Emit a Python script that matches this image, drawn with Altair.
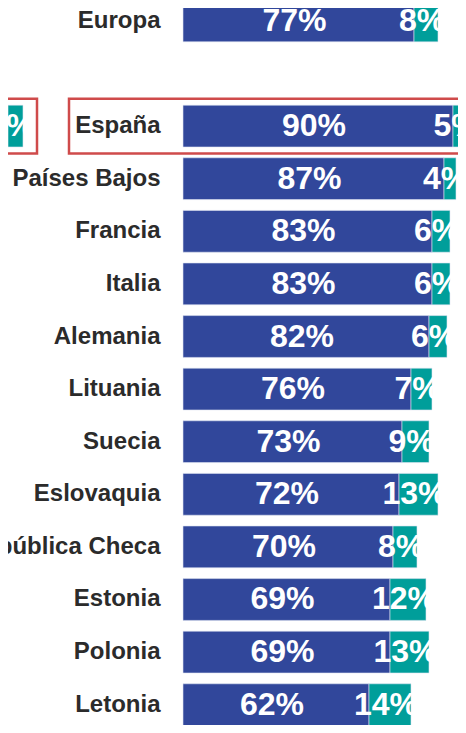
import altair as alt
import pandas as pd

# ---- data ----
paises = ["Europa", "España", "Países Bajos", "Francia", "Italia", "Alemania",
          "Lituania", "Suecia", "Eslovaquia", "República Checa", "Estonia",
          "Polonia", "Letonia"]
azul = [77, 90, 87, 83, 83, 82, 76, 73, 72, 70, 69, 69, 62]
verde = [8, 5, 4, 6, 6, 6, 7, 9, 13, 8, 12, 13, 14]

# fragment of the neighbouring (cropped) panel on the left
izq_paises = ["España"]
izq_azul = [90]
izq_verde = [5]

destacado = ["España"]

orden = ["Europa", " "] + paises[1:]

BLUE = "#31479b"
TEAL = "#009e9a"
RED = "#cf4b4b"
FONT = "Liberation Sans"


def largo(nombres, a, v):
    filas = []
    for p, x1, x2 in zip(nombres, a, v):
        filas.append({"pais": p, "serie": "azul", "start": 0, "end": x1,
                      "mid": x1 / 2, "label": f"{x1}%"})
        filas.append({"pais": p, "serie": "verde", "start": x1, "end": x1 + x2,
                      "mid": x1 + x2 / 2, "label": f"{x2}%"})
    return pd.DataFrame(filas)


df = largo(paises, azul, verde)
df_izq = largo(izq_paises, izq_azul, izq_verde)
df_hl = pd.DataFrame({"pais": destacado})

Y = alt.Y(
    "pais:N",
    sort=orden,
    scale=alt.Scale(domain=orden, range=[-8, 717.6], paddingInner=0.205,
                    paddingOuter=0, round=False),
    axis=alt.Axis(
        title=None, ticks=False, tickSize=0, domain=False,
        labelFont=FONT, labelFontWeight="bold", labelFontSize=24,
        labelColor="#2b2b2b", labelPadding=23, labelLimit=400,
    ),
)

xs = alt.Scale(domain=[0, 100], range=[0, 300])
xs_izq = alt.Scale(domain=[0, 100], range=[-445, -145])
color = alt.Color("serie:N", scale=alt.Scale(domain=["azul", "verde"], range=[BLUE, TEAL]), legend=None)

bars = alt.Chart(df).mark_bar(stroke="#dfe4f2", strokeWidth=0.6).encode(
    y=Y, x=alt.X("start:Q", scale=xs, axis=None), x2="end:Q", color=color
)
text = alt.Chart(df).mark_text(
    font=FONT, fontWeight="bold", fontSize=32, color="white", dx=-4, baseline="middle"
).encode(y=Y, x=alt.X("mid:Q", scale=xs, axis=None), text="label:N")

bars_izq = alt.Chart(df_izq).mark_bar(stroke="#dfe4f2", strokeWidth=0.6).encode(
    y=Y, x=alt.X("start:Q", scale=xs_izq, axis=None), x2="end:Q", color=color
)
text_izq = alt.Chart(df_izq).mark_text(
    font=FONT, fontWeight="bold", fontSize=32, color="white", dx=-4, baseline="middle"
).encode(y=Y, x=alt.X("mid:Q", scale=xs_izq, axis=None), text="label:N")

box = alt.Chart(df_hl).mark_bar(
    height={"band": 1.31}, fillOpacity=0, stroke=RED, strokeWidth=2.5
).encode(y=Y, x=alt.value(-114), x2=alt.value(330))
box_izq = alt.Chart(df_hl).mark_bar(
    height={"band": 1.31}, fillOpacity=0, stroke=RED, strokeWidth=2.5
).encode(y=Y, x=alt.value(-200), x2=alt.value(-146))

chart = (
    alt.layer(bars, text, bars_izq, text_izq, box, box_izq)
    .resolve_scale(x="independent")
    .properties(
        width=275, height=717,
        autosize=alt.AutoSizeParams(type="none"),
        padding={"left": 175, "top": 0, "right": 0, "bottom": 0},
    )
    .configure_view(stroke=None)
)

chart.save("out.html", embed_options={"renderer": "svg", "actions": False})
